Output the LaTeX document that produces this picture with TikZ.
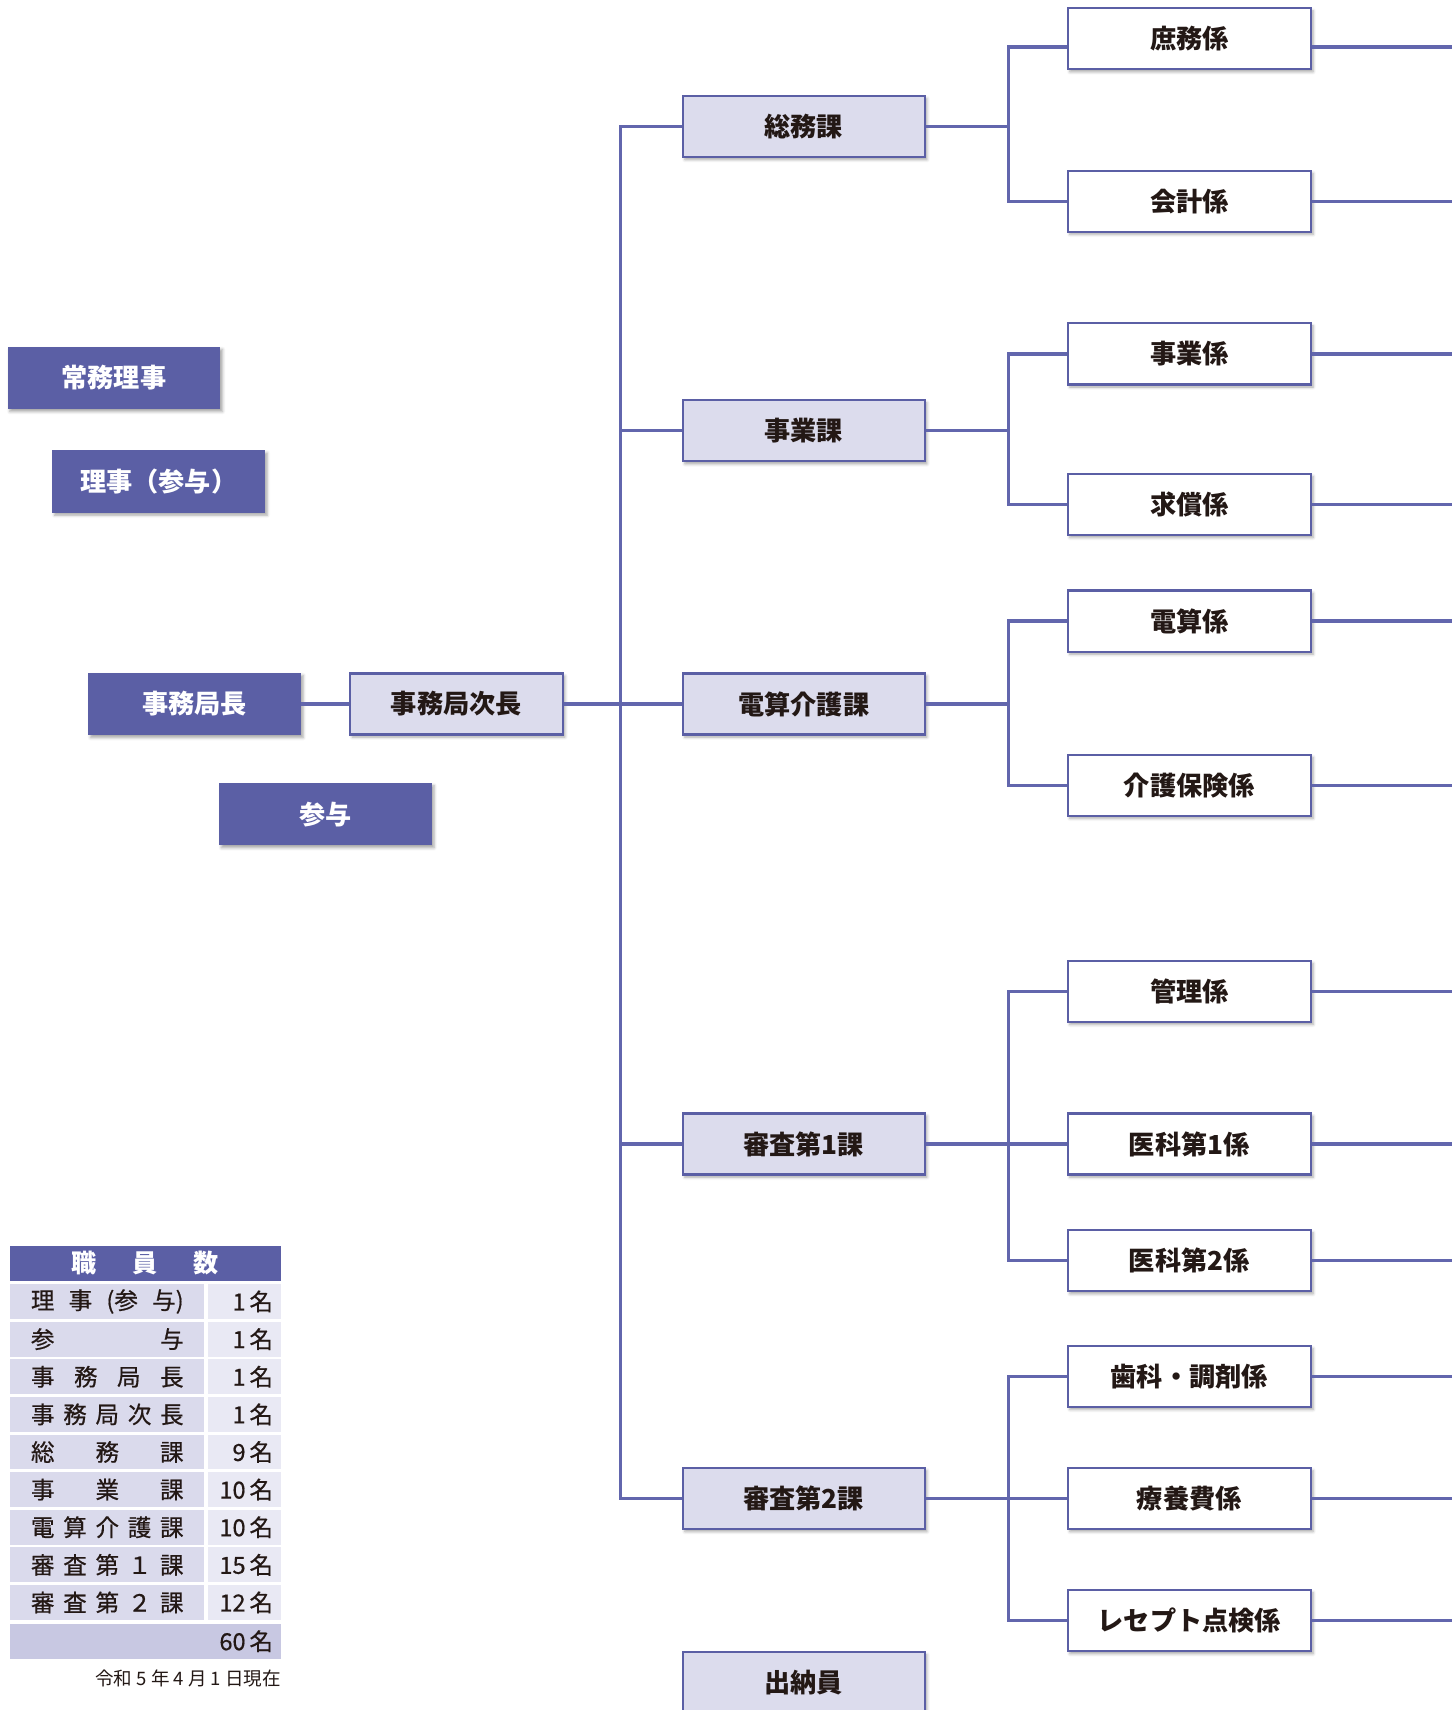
\documentclass[tikz,border=0pt]{standalone}
\usepackage{fontspec}
\newfontfamily\jp{Noto Sans CJK JP}
\newfontfamily\jpm{Noto Sans CJK JP}[FakeBold=0.6]
\usetikzlibrary{shadows.blur}
\definecolor{navy}{HTML}{5B5FA5}
\definecolor{boxfill}{HTML}{DCDCED}
\definecolor{linecol}{HTML}{6266AD}
\definecolor{ink}{HTML}{231815}
\definecolor{cellA}{HTML}{DADAEC}
\definecolor{cellB}{HTML}{E9E9F4}
\definecolor{cellT}{HTML}{C8C8E2}
\tikzset{
 bshadow/.style={blur shadow={shadow xshift=1pt, shadow yshift=-1.2pt, shadow blur radius=1.3pt, shadow opacity=35}},
 navybox/.style={rectangle, fill=navy, inner sep=0pt, minimum width=97.5pt, minimum height=28.5pt, text=white, font=\jp\bfseries\fontsize{12pt}{12pt}\selectfont, bshadow},
 kabox/.style={rectangle, draw=navy, line width=1pt, fill=boxfill, inner sep=0pt, minimum width=111pt, minimum height=28pt, text=ink, font=\jp\bfseries\fontsize{12pt}{12pt}\selectfont, bshadow},
 kakari/.style={kabox, fill=white, minimum width=111.5pt},
 conn/.style={draw=linecol, line width=1.5pt},
 cellL/.style={rectangle, fill=cellA, inner sep=0pt, anchor=north west, minimum width=89pt, minimum height=16pt},
 cellR/.style={rectangle, fill=cellB, inner sep=0pt, anchor=north west, minimum width=33.5pt, minimum height=16pt},
 ttext/.style={inner sep=0pt, text=ink, font=\jpm\fontsize{10.8pt}{10.8pt}\selectfont},
}
\newcommand\trow[4]{%
 \node[cellL] (L#1) at (9,#2) {};
 \node[cellR] (R#1) at (190,#2) {};
 \node[ttext, anchor=west] (LT#1) at ([xshift=9.5pt]L#1.west) {\makebox[70pt][s]{#3}};
 \node[ttext, anchor=east] (RT#1) at ([xshift=-3.5pt]R#1.east) {#4};
}
\begin{document}
\begin{tikzpicture}[x=0.5pt,y=-0.5pt]
\useasboundingbox (0,0) rectangle (1331,1568);
% left executive boxes
\node[navybox] (joumu) at (104.5,346.5) {常務理事};
\node[navybox] (riji) at (145.5,441.5) {理事（参与）};
\node[navybox] (kyokuchou) at (178.5,645.5) {事務局長};
\node[navybox] (sanyo) at (298.5,746.5) {参与};
\node[kabox, minimum width=97.5pt] (jichou) at (418.5,645.5) {事務局次長};
% sections
\node[kabox] (soumu) at (737,116) {総務課};
\node[kabox] (jigyo) at (737,395) {事業課};
\node[kabox] (denzan) at (737,645.5) {電算介護課};
\node[kabox] (shinsa1) at (737,1049) {審査第1課};
\node[kabox] (shinsa2) at (737,1374) {審査第2課};
\node[kabox] (suitou) at (737,1543) {出納員};
% units
\node[kakari] (shomu) at (1090.5,35.5) {庶務係};
\node[kakari] (kaikei) at (1090.5,184.5) {会計係};
\node[kakari] (jigyok) at (1090.5,324.5) {事業係};
\node[kakari] (kyushou) at (1090.5,462.5) {求償係};
\node[kakari] (denzank) at (1090.5,569.5) {電算係};
\node[kakari] (kaigo) at (1090.5,720) {介護保険係};
\node[kakari] (kanri) at (1090.5,909) {管理係};
\node[kakari] (ika1) at (1090.5,1049) {医科第1係};
\node[kakari] (ika2) at (1090.5,1156) {医科第2係};
\node[kakari] (shika) at (1090.5,1262) {歯科・調剤係};
\node[kakari] (ryouyou) at (1090.5,1374) {療養費係};
\node[kakari] (rece) at (1090.5,1486) {レセプト点検係};
% connectors
\coordinate (tx) at (569,0);
\coordinate (bx) at (925,0);
\coordinate (rx) at (1340,0);
\coordinate (shomuL) at ([yshift=-3.75pt]shomu.west);
\coordinate (shomuR) at ([yshift=-3.75pt]shomu.east);
\draw[conn] (kyokuchou.east) -- (jichou.west);
\draw[conn] (jichou.east) -- (denzan.west);
\draw[conn] (soumu.west) -| (tx |- shinsa2.west) -- (shinsa2.west);
\draw[conn] (tx |- jigyo.west) -- (jigyo.west);
\draw[conn] (tx |- shinsa1.west) -- (shinsa1.west);
\draw[conn] (soumu.east) -- (bx |- soumu.east);
\draw[conn] (shomuL) -| (bx |- kaikei.west) -- (kaikei.west);
\draw[conn] (jigyo.east) -- (bx |- jigyo.east);
\draw[conn] (jigyok.west) -| (bx |- kyushou.west) -- (kyushou.west);
\draw[conn] (denzan.east) -- (bx |- denzan.east);
\draw[conn] (denzank.west) -| (bx |- kaigo.west) -- (kaigo.west);
\draw[conn] (shinsa1.east) -- (ika1.west);
\draw[conn] (kanri.west) -| (bx |- ika2.west) -- (ika2.west);
\draw[conn] (shinsa2.east) -- (ryouyou.west);
\draw[conn] (shika.west) -| (bx |- rece.west) -- (rece.west);
\draw[conn] (shomuR) -- (rx |- shomuR);
\foreach \n in {kaikei,jigyok,kyushou,denzank,kaigo,kanri,ika1,ika2,shika,ryouyou,rece}
  \draw[conn] (\n.east) -- (rx |- \n.east);
% staff table
\node[rectangle, fill=navy, inner sep=0pt, anchor=north west, minimum width=124pt, minimum height=16pt] (head) at (9,1142) {};
\node[inner sep=0pt, text=white, font=\jp\bfseries\fontsize{11.5pt}{11.5pt}\selectfont] (headt) at (head.center) {職\hspace{16.5pt}員\hspace{16.5pt}数};
\trow{0}{1177}{理\hfill 事\hfill (参\hfill 与)}{1\,名}
\trow{1}{1211.5}{参\hfill 与}{1\,名}
\trow{2}{1246}{事\hfill 務\hfill 局\hfill 長}{1\,名}
\trow{3}{1280.5}{事\hfill 務\hfill 局\hfill 次\hfill 長}{1\,名}
\trow{4}{1315}{総\hfill 務\hfill 課}{9\,名}
\trow{5}{1349.5}{事\hfill 業\hfill 課}{10\,名}
\trow{6}{1384}{電\hfill 算\hfill 介\hfill 護\hfill 課}{10\,名}
\trow{7}{1418.5}{審\hfill 査\hfill 第\hfill １\hfill 課}{15\,名}
\trow{8}{1453}{審\hfill 査\hfill 第\hfill ２\hfill 課}{12\,名}
\node[rectangle, fill=cellT, inner sep=0pt, anchor=north west, minimum width=124pt, minimum height=16pt] (total) at (9,1488.5) {};
\node[ttext, anchor=east] (totalt) at ([xshift=-3.5pt]total.east) {60\,名};
\node[inner sep=0pt, anchor=east, text=ink, font=\jp\fontsize{8.5pt}{8.5pt}\selectfont] (note) at (258,1539) {令和 5 年 4 月 1 日現在};
\end{tikzpicture}
\end{document}
